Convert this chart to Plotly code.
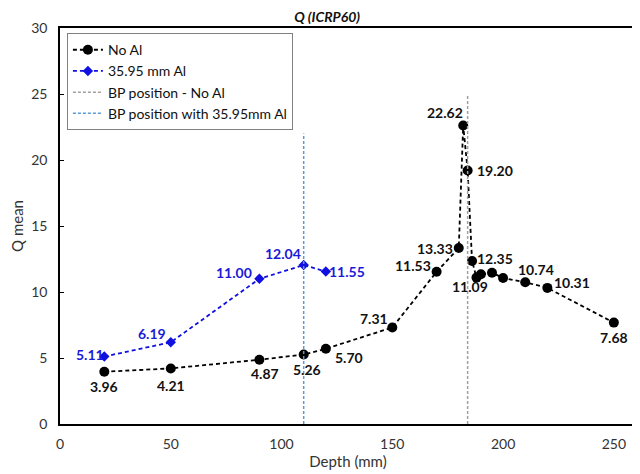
import plotly.graph_objects as go

depth_noal = [20, 50, 90, 110, 120, 150, 170, 180, 182, 184, 186, 188, 190, 195, 200, 210, 220, 250]
q_noal = [3.96, 4.21, 4.87, 5.26, 5.70, 7.31, 11.53, 13.33, 22.62, 19.20, 12.35, 11.09, 11.34, 11.46, 11.06, 10.74, 10.31, 7.68]
labels_noal = ["3.96", "4.21", "4.87", "5.26", "5.70", "7.31", "11.53", "13.33", "22.62", "19.20", "12.35", "11.09", "", "", "", "10.74", "10.31", "7.68"]
# label offsets in pixels (dx right, dy down)
off_noal = [(0, 15), (0, 17), (6, 14), (3, 15), (23, 9), (-18, -9), (-24, -6), (-24, 0), (-18, -13),
            (27, 0), (23, -2), (-6, 9), (0, 0), (0, 0), (0, 0), (11, -13), (25, -5), (0, 15)]

depth_al = [20, 50, 90, 110, 120]
q_al = [5.11, 6.19, 11.00, 12.04, 11.55]
labels_al = ["5.11", "6.19", "11.00", "12.04", "11.55"]
off_al = [(-14, -2), (-19, -9), (-25, -6), (-21, -12), (21, 0)]

bp_noal = 184
bp_noal_top = 25
bp_al = 110
bp_al_top = 22

x_ticks = [0, 50, 100, 150, 200, 250]
y_ticks = [0, 5, 10, 15, 20, 25, 30]

FONT = "Lato, Liberation Sans, sans-serif"
BLACK = "#111111"
BLUE = "#1010e0"

fig = go.Figure()
fig.add_trace(go.Scatter(
    x=depth_noal, y=q_noal, mode="lines+markers", name="No Al",
    line=dict(color="black", dash="4px,3px", width=1.8),
    marker=dict(color="black", size=10, symbol="circle"),
))
fig.add_trace(go.Scatter(
    x=depth_al, y=q_al, mode="lines+markers", name="35.95 mm Al",
    line=dict(color=BLUE, dash="4px,3px", width=1.8),
    marker=dict(color=BLUE, size=8, symbol="diamond"),
))
fig.add_trace(go.Scatter(
    x=[bp_noal, bp_noal], y=[0, bp_noal_top], mode="lines", name="BP position - No Al",
    line=dict(color="#a0a0a0", dash="3px,2px", width=1.5),
))
fig.add_trace(go.Scatter(
    x=[bp_al, bp_al], y=[0, bp_al_top], mode="lines", name="BP position with 35.95mm Al",
    line=dict(color="#5b9bd5", dash="3px,2px", width=1.5),
))

annotations = []
for xv, yv, t, (dx, dy) in zip(depth_noal, q_noal, labels_noal, off_noal):
    if t:
        annotations.append(dict(x=xv, y=yv, text=t, showarrow=False, xshift=dx, yshift=-dy,
                                font=dict(color=BLACK, size=14, family=FONT, weight="bold")))
for xv, yv, t, (dx, dy) in zip(depth_al, q_al, labels_al, off_al):
    annotations.append(dict(x=xv, y=yv, text=t, showarrow=False, xshift=dx, yshift=-dy,
                            font=dict(color="#1a1ad8", size=14, family=FONT, weight="bold")))

# the page adds an 8px body margin, so the figure is 8px smaller and margins are shifted
fig.update_layout(
    width=632, height=466,
    margin=dict(l=52, r=4, t=20, b=50),
    paper_bgcolor="white", plot_bgcolor="white",
    font=dict(family=FONT, size=14, color="#333333"),
    title=dict(text="<b><i>Q (ICRP60)</i></b>", x=0.505, xref="container", xanchor="center",
               y=0.981, yref="container", yanchor="middle",
               font=dict(size=14, color=BLACK, family=FONT)),
    annotations=annotations,
    showlegend=True,
    legend=dict(x=0.012, y=0.987, xanchor="left", yanchor="top",
                bgcolor="white", bordercolor="#808080", borderwidth=1,
                font=dict(size=14, color=BLACK, family=FONT),
                itemwidth=30, tracegroupgap=0),
    xaxis=dict(range=[0, 260], tickvals=x_ticks, showgrid=False, zeroline=False, automargin=False,
               showline=True, linecolor="black", linewidth=1.5, mirror=True,
               ticks="", tickfont=dict(size=14), ticklabelstandoff=6,
               title=dict(text="Depth (mm)", standoff=4, font=dict(size=15))),
    yaxis=dict(range=[0, 30], tickvals=y_ticks, showgrid=False, zeroline=False, automargin=False,
               showline=True, linecolor="black", linewidth=1.5, mirror=True,
               ticks="inside", ticklen=4, tickcolor="black", tickfont=dict(size=14),
               ticklabelstandoff=8,
               title=dict(text="Q mean", standoff=4, font=dict(size=15))),
)

fig.write_html("out.html")
